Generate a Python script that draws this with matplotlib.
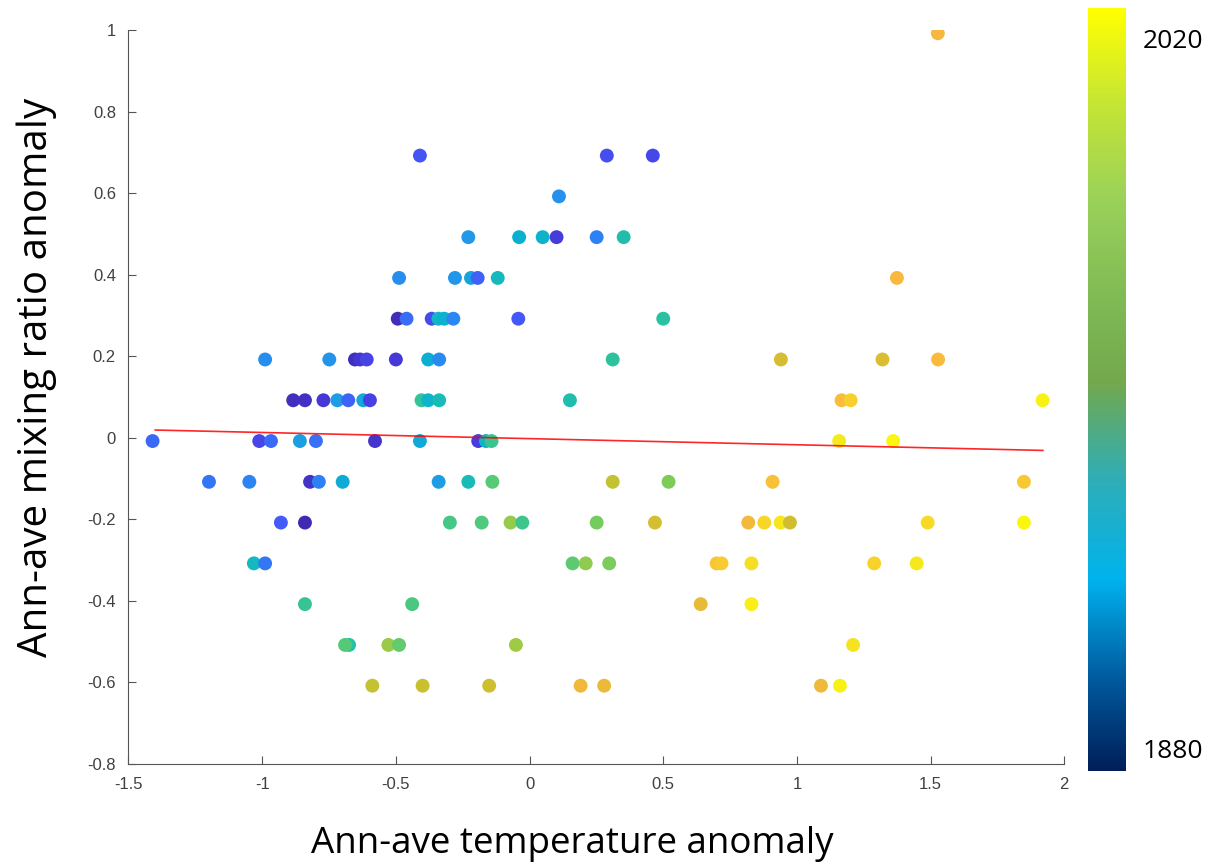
import numpy as np
import matplotlib
matplotlib.use("Agg")
import matplotlib.pyplot as plt
from matplotlib.colors import LinearSegmentedColormap, Normalize
from matplotlib.cm import ScalarMappable

# 每个点: 温度距平, 混合比距平, 年份
temp_anom = [
    1.527,
    -0.410, 0.289, 0.461,
    0.110,
    -0.229, -0.039, 0.049, 0.101, 0.251, 0.352,
    -0.488, -0.279, -0.219, -0.194, -0.119, 1.374,
    -0.493, -0.460, -0.366, -0.341, -0.319, -0.285, -0.042, 0.500,
    -0.989, -0.749, -0.653, -0.634, -0.609, -0.500, -0.379, -0.338, 0.311, 0.940, 1.320, 1.528,
    -0.884, -0.840, -0.771, -0.719, -0.678, -0.622, -0.597, -0.404, -0.379, -0.338, 0.151, 1.167, 1.201, 1.919,
    -1.410, -1.011, -0.967, -0.859, -0.799, -0.578, -0.410, -0.192, -0.163, -0.142, 1.158, 1.360,
    -1.199, -1.048, -0.821, -0.788, -0.699, -0.340, -0.229, -0.139, 0.311, 0.520, 0.909, 1.849,
    -0.930, -0.840, -0.298, -0.179, -0.071, -0.027, 0.251, 0.469, 0.818, 0.878, 0.939, 0.974, 1.489, 1.849,
    -1.031, -0.989, 0.161, 0.210, 0.298, 0.700, 0.718, 0.830, 1.289, 1.448,
    -0.840, -0.439, 0.640, 0.830,
    -0.675, -0.690, -0.528, -0.488, -0.051, 1.210,
    -0.588, -0.400, -0.151, 0.191, 0.279, 1.090, 1.161,
]
mix_anom = (
    [0.992]
    + [0.692] * 3
    + [0.592]
    + [0.492] * 6
    + [0.392] * 6
    + [0.292] * 8
    + [0.192] * 12
    + [0.092] * 14
    + [-0.008] * 12
    + [-0.108] * 12
    + [-0.208] * 14
    + [-0.308] * 10
    + [-0.408] * 4
    + [-0.508] * 6
    + [-0.608] * 7
)
years = [
    2000,
    1902, 1900, 1898,
    1922,
    1925, 1936, 1938, 1893, 1915, 1948,
    1921, 1924, 1930, 1906, 1943, 2001,
    1884, 1910, 1899, 1941, 1937, 1918, 1903, 1950,
    1920, 1923, 1885, 1890, 1896, 1892, 1935, 1919, 1952, 1991, 1992, 2002,
    1886, 1887, 1891, 1926, 1907, 1932, 1895, 1953, 1939, 1944, 1947, 2003, 2008, 2018,
    1908, 1897, 1909, 1928, 1911, 1889, 1933, 1894, 1940, 1955, 2016, 2019,
    1912, 1917, 1888, 1916, 1934, 1927, 1945, 1962, 1985, 1970, 2004, 2006,
    1905, 1883, 1958, 1960, 1975, 1956, 1968, 1990, 1999, 2010, 2014, 1989, 2011, 2020,
    1942, 1913, 1963, 1974, 1969, 2005, 2007, 2012, 2009, 2015,
    1954, 1959, 1995, 2017,
    1949, 1961, 1976, 1964, 1977, 2013,
    1986, 1987, 1988, 1998, 1996, 1997, 2018,
]

# 回归线两端
fit_x = [-1.40, 1.92]
fit_y = [0.019, -0.031]

x_ticks = [-1.5, -1, -0.5, 0, 0.5, 1, 1.5, 2]
x_ticklabels = ["-1.5", "-1", "-0.5", "0", "0.5", "1", "1.5", "2"]
y_ticks = [-0.8, -0.6, -0.4, -0.2, 0, 0.2, 0.4, 0.6, 0.8, 1]
y_ticklabels = ["-0.8", "-0.6", "-0.4", "-0.2", "0", "0.2", "0.4", "0.6", "0.8", "1"]

# 点的颜色 (类似 parula)
pts_cmap = LinearSegmentedColormap.from_list("parula_like", [
    (0.00, (0.24, 0.15, 0.66)),
    (0.10, (0.28, 0.24, 0.88)),
    (0.17, (0.27, 0.35, 0.97)),
    (0.25, (0.18, 0.50, 0.96)),
    (0.32, (0.13, 0.60, 0.91)),
    (0.40, (0.04, 0.69, 0.82)),
    (0.47, (0.10, 0.74, 0.70)),
    (0.55, (0.25, 0.78, 0.54)),
    (0.62, (0.44, 0.80, 0.38)),
    (0.70, (0.64, 0.79, 0.26)),
    (0.77, (0.80, 0.75, 0.18)),
    (0.83, (0.92, 0.73, 0.22)),
    (0.87, (0.98, 0.72, 0.25)),
    (0.92, (0.97, 0.82, 0.17)),
    (0.96, (0.96, 0.90, 0.12)),
    (1.00, (0.98, 0.97, 0.06)),
])
# 色条的颜色
bar_cmap = LinearSegmentedColormap.from_list("bar_like", [
    (0.00, (0.00, 0.12, 0.35)),
    (0.12, (0.00, 0.35, 0.62)),
    (0.25, (0.00, 0.70, 0.93)),
    (0.38, (0.18, 0.68, 0.72)),
    (0.51, (0.45, 0.66, 0.30)),
    (0.62, (0.50, 0.73, 0.33)),
    (0.75, (0.60, 0.82, 0.35)),
    (0.88, (0.78, 0.90, 0.20)),
    (1.00, (1.00, 1.00, 0.00)),
])

fig = plt.figure(figsize=(12.18, 8.67), dpi=100)
ax = fig.add_axes([0.1055, 0.1188, 0.7683, 0.8466])

ax.scatter(temp_anom, mix_anom, c=years, cmap=pts_cmap, vmin=1880, vmax=2020,
           s=100, edgecolors="none", zorder=2)
ax.plot(fit_x, fit_y, color="red", lw=1.2, alpha=0.85, zorder=3)

ax.set_xlim(-1.5, 2)
ax.set_ylim(-0.8, 1)
ax.set_xticks(x_ticks)
ax.set_xticklabels(x_ticklabels)
ax.set_yticks(y_ticks)
ax.set_yticklabels(y_ticklabels)
ax.spines["top"].set_visible(False)
ax.spines["right"].set_visible(False)
for side in ["left", "bottom"]:
    ax.spines[side].set_color("#555555")
    ax.spines[side].set_linewidth(0.8)
ax.tick_params(axis="both", direction="in", length=6, width=0.8, color="#555555",
               labelcolor="#404040", labelsize=12, pad=9)
for lab in ax.get_xticklabels() + ax.get_yticklabels():
    lab.set_family("Liberation Sans")

fig.text(0.4697, 0.027, "Ann-ave temperature anomaly", ha="center", va="center",
         fontsize=26.5, family=["Open Sans", "DejaVu Sans"])
fig.text(0.030, 0.565, "Ann-ave mixing ratio anomaly", ha="center", va="center",
         rotation=90, fontsize=29, family=["Open Sans", "DejaVu Sans"])

cax = fig.add_axes([0.8933, 0.1107, 0.0312, 0.8801])
sm = ScalarMappable(norm=Normalize(vmin=1875.5, vmax=2026), cmap=bar_cmap)
cb = fig.colorbar(sm, cax=cax, ticks=[1880, 2020])
cb.outline.set_visible(False)
cb.ax.tick_params(length=0, pad=12, labelsize=19)
for lab in cb.ax.get_yticklabels():
    lab.set_family("Open Sans")

fig.savefig("out.png", dpi=100)
